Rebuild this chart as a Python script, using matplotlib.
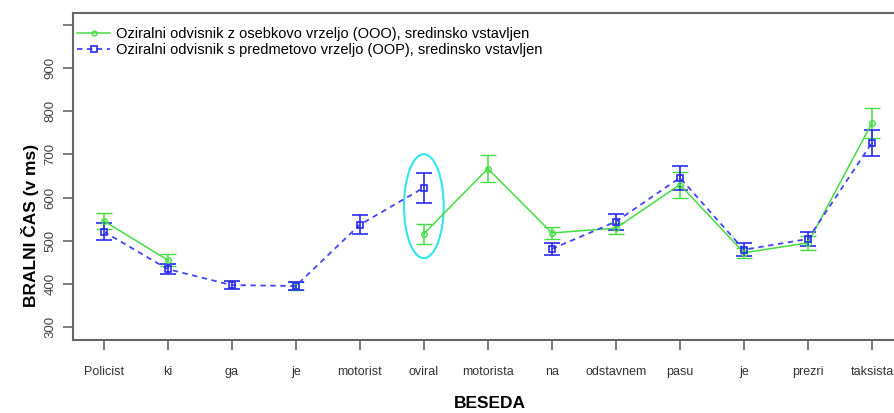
import numpy as np
import matplotlib
matplotlib.use("Agg")
import matplotlib.pyplot as plt
from matplotlib.patches import Ellipse
from matplotlib.lines import Line2D

plt.rcParams['font.family'] = ['Liberation Sans', 'DejaVu Sans']

words = ["Policist", "ki", "ga", "je", "motorist", "oviral", "motorista",
         "na", "odstavnem", "pasu", "je", "prezri", "taksista"]
ooo = [546, 455, np.nan, 395, np.nan, 516, 667, 518, 529, 630, 472, 495, 773]
ooo_err = [19, 14, np.nan, 10, np.nan, 23, 32, 14, 13, 30, 12, 17, 35]
oop = [521, 434, 397, 395, 537, 623, np.nan, 481, 544, 646, 479, 504, 727]
oop_err = [19, 11, 10, 10, 22, 35, np.nan, 14, 19, 28, 15, 17, 30]
yticks = [300, 400, 500, 600, 700, 800, 900, 1000]
ytick_labels = ["300", "400", "500", "600", "700", "800", "900", ""]
label_ooo = "Oziralni odvisnik z osebkovo vrzeljo (OOO), sredinsko vstavljen"
label_oop = "Oziralni odvisnik s predmetovo vrzeljo (OOP), sredinsko vstavljen"

x = np.arange(1, len(words) + 1)

fig = plt.figure(figsize=(8.94, 4.13), dpi=100)
ax = fig.add_axes([73/894, 73/413, 831/894, 327/413])

green = '#44dd44'
blue = '#4444ff'
dblue = '#2a2aee'
dash = (0, (3, 2.5))

ax.errorbar(x, ooo, yerr=ooo_err, color=green, ecolor=green, lw=1.1,
            marker='o', ms=4, mfc='none', mec=green, mew=1.0,
            capsize=5.5, elinewidth=1.1, capthick=1.1)
ax.errorbar(x, oop, yerr=oop_err, color=blue, ecolor=dblue, lw=1.3,
            ls=dash, marker='s', ms=4.5, mfc='none', mec=dblue,
            mew=1.2, capsize=5.5, elinewidth=1.2, capthick=1.2)

ax.add_patch(Ellipse((6, 580), 0.62, 241, fill=False, edgecolor='#33e5f0', lw=1.5))

ax.set_xlim(0.52, 13.5)
ax.set_ylim(269.8, 1027.8)
ax.set_xticks(x)
ax.set_xticklabels(words, fontsize=9, color='#333333')
ax.set_yticks(yticks)
ax.set_yticklabels(ytick_labels, fontsize=9.5, color='#444444', rotation=90, va='center')
ax.tick_params(axis='both', length=7, width=1.2, color='#666666')
ax.tick_params(axis='x', pad=12)
ax.tick_params(axis='y', pad=5)

for s in ['left', 'bottom', 'top', 'right']:
    ax.spines[s].set_color('#666666')
    ax.spines[s].set_linewidth(1.5)

fig.text(490/894, 1 - 404/413, "BESEDA", fontsize=12.5, fontweight='bold',
         ha='center', va='center')
fig.text(30/894, 1 - 225/413, "BRALNI ČAS (v ms)", rotation=90, fontsize=12.5,
         fontweight='bold', ha='center', va='center')

handles = [
    Line2D([], [], color=green, lw=1.1, marker='o', ms=3.5, mfc='none', mec=green),
    Line2D([], [], color=blue, lw=1.3, ls=dash, marker='s', ms=4.5, mfc='none', mec=dblue, mew=1.2),
]
ax.legend(handles, [label_ooo, label_oop], loc='upper left', frameon=False,
          fontsize=10.5, bbox_to_anchor=(-0.006, 0.985), handlelength=2.3,
          handletextpad=0.4, labelspacing=0.15, borderaxespad=0.2)

fig.savefig("out.png", dpi=100)
